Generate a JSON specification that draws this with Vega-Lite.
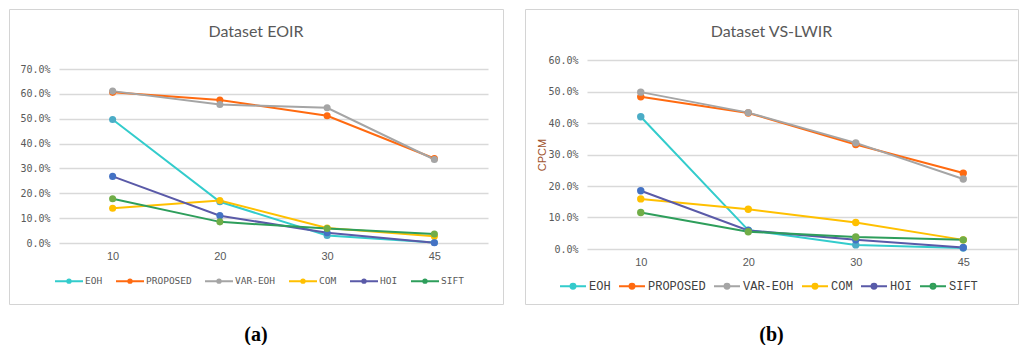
{
  "$schema": "https://vega.github.io/schema/vega-lite/v6.json",
  "padding": {"left": 8, "top": 8, "right": 0, "bottom": 0},
  "background": "white",
  "config": {
    "view": {"stroke": "#D4D4D4", "strokeWidth": 1},
    "axis": {"labelColor": "#595959", "domain": false, "ticks": false, "gridColor": "#D9D9D9", "gridWidth": 1.3}
  },
  "spacing": 20,
  "resolve": {"scale": {"stroke": "independent", "fill": "independent"}, "legend": {"stroke": "independent", "fill": "independent"}},
  "hconcat": [
    {
      "title": {"text": "(a)", "orient": "bottom", "anchor": "middle", "offset": 20, "font": "Liberation Serif", "fontSize": 20, "fontWeight": "bold", "color": "#000000"},
      "resolve": {"scale": {"stroke": "independent", "fill": "independent"}, "legend": {"stroke": "independent", "fill": "independent"}},
      "hconcat": [
        {
          "width": 494,
          "height": 295,
          "title": {"text": "Dataset EOIR", "anchor": "middle", "frame": "group", "offset": -31, "font": "Lato", "fontSize": 16, "fontWeight": "normal", "color": "#595959"},
          "data": {"values": [
            {"k": 10, "s": "EOH", "v": 0.497}, {"k": 20, "s": "EOH", "v": 0.166}, {"k": 30, "s": "EOH", "v": 0.030}, {"k": 45, "s": "EOH", "v": 0.002},
            {"k": 10, "s": "PROPOSED", "v": 0.606}, {"k": 20, "s": "PROPOSED", "v": 0.575}, {"k": 30, "s": "PROPOSED", "v": 0.512}, {"k": 45, "s": "PROPOSED", "v": 0.340},
            {"k": 10, "s": "VAR-EOH", "v": 0.611}, {"k": 20, "s": "VAR-EOH", "v": 0.557}, {"k": 30, "s": "VAR-EOH", "v": 0.544}, {"k": 45, "s": "VAR-EOH", "v": 0.336},
            {"k": 10, "s": "COM", "v": 0.140}, {"k": 20, "s": "COM", "v": 0.171}, {"k": 30, "s": "COM", "v": 0.060}, {"k": 45, "s": "COM", "v": 0.027},
            {"k": 10, "s": "HOI", "v": 0.268}, {"k": 20, "s": "HOI", "v": 0.110}, {"k": 30, "s": "HOI", "v": 0.041}, {"k": 45, "s": "HOI", "v": 0.001},
            {"k": 10, "s": "SIFT", "v": 0.178}, {"k": 20, "s": "SIFT", "v": 0.085}, {"k": 30, "s": "SIFT", "v": 0.058}, {"k": 45, "s": "SIFT", "v": 0.036}
          ]},
          "encoding": {
            "x": {"field": "k", "type": "ordinal", "scale": {"type": "point", "padding": 0.5, "range": [50, 479]},
                  "axis": {"title": null, "labelAngle": 0, "offset": -56, "labelPadding": 2, "labelFont": "Liberation Sans", "labelFontSize": 11, "grid": false}},
            "y": {"field": "v", "type": "quantitative", "scale": {"domain": [0, 0.7], "range": [234, 60], "nice": false},
                  "axis": {"title": null, "values": [0, 0.1, 0.2, 0.3, 0.4, 0.5, 0.6, 0.7], "format": ".1%", "offset": -44, "labelPadding": 3, "labelFont": "DejaVu Sans Mono", "labelFontSize": 10, "grid": true}}
          },
          "layer": [
            {"mark": {"type": "line", "strokeWidth": 2},
             "encoding": {"stroke": {"field": "s", "type": "nominal",
               "scale": {"domain": ["EOH", "PROPOSED", "VAR-EOH", "COM", "HOI", "SIFT"], "range": ["#33CCCC", "#FF6A10", "#A5A5A5", "#FFC000", "#5A5AA8", "#2E9E5B"]},
               "legend": {"title": null, "orient": "none", "legendX": 45, "legendY": 257, "direction": "horizontal", "padding": 0,
                 "symbolType": "M-1,0H1M-0.12,0A0.12,0.12,0,1,1,0.12,0A0.12,0.12,0,1,1,-0.12,0Z", "symbolSize": 784, "symbolStrokeWidth": 2,
                 "labelFont": "DejaVu Sans Mono", "labelFontSize": 9.5, "labelColor": "#595959", "labelOffset": 1, "columnPadding": 9,
                 "encode": {"symbols": {"update": {"fill": {"signal": "{'EOH':'#4BACC6','PROPOSED':'#FF6A10','VAR-EOH':'#A5A5A5','COM':'#FFC000','HOI':'#4472C4','SIFT':'#70AD47'}[datum.value]"}}}}}}}},
            {"mark": {"type": "point", "filled": true, "size": 50, "opacity": 1},
             "encoding": {"fill": {"field": "s", "type": "nominal",
               "scale": {"domain": ["EOH", "PROPOSED", "VAR-EOH", "COM", "HOI", "SIFT"], "range": ["#4BACC6", "#FF6A10", "#A5A5A5", "#FFC000", "#4472C4", "#70AD47"]},
               "legend": null}}}
          ]
        }
      ]
    },
    {
      "title": {"text": "(b)", "orient": "bottom", "anchor": "middle", "offset": 20, "font": "Liberation Serif", "fontSize": 20, "fontWeight": "bold", "color": "#000000"},
      "resolve": {"scale": {"stroke": "independent", "fill": "independent"}, "legend": {"stroke": "independent", "fill": "independent"}},
      "hconcat": [
        {
          "width": 493,
          "height": 295,
          "title": {"text": "Dataset VS-LWIR", "anchor": "middle", "frame": "group", "offset": -31, "font": "Lato", "fontSize": 16, "fontWeight": "normal", "color": "#595959"},
          "data": {"values": [
            {"k": 10, "s": "EOH", "v": 0.420}, {"k": 20, "s": "EOH", "v": 0.060}, {"k": 30, "s": "EOH", "v": 0.013}, {"k": 45, "s": "EOH", "v": 0.003},
            {"k": 10, "s": "PROPOSED", "v": 0.483}, {"k": 20, "s": "PROPOSED", "v": 0.432}, {"k": 30, "s": "PROPOSED", "v": 0.332}, {"k": 45, "s": "PROPOSED", "v": 0.241},
            {"k": 10, "s": "VAR-EOH", "v": 0.498}, {"k": 20, "s": "VAR-EOH", "v": 0.433}, {"k": 30, "s": "VAR-EOH", "v": 0.337}, {"k": 45, "s": "VAR-EOH", "v": 0.222},
            {"k": 10, "s": "COM", "v": 0.159}, {"k": 20, "s": "COM", "v": 0.126}, {"k": 30, "s": "COM", "v": 0.084}, {"k": 45, "s": "COM", "v": 0.029},
            {"k": 10, "s": "HOI", "v": 0.185}, {"k": 20, "s": "HOI", "v": 0.059}, {"k": 30, "s": "HOI", "v": 0.029}, {"k": 45, "s": "HOI", "v": 0.005},
            {"k": 10, "s": "SIFT", "v": 0.116}, {"k": 20, "s": "SIFT", "v": 0.055}, {"k": 30, "s": "SIFT", "v": 0.038}, {"k": 45, "s": "SIFT", "v": 0.029}
          ]},
          "encoding": {
            "x": {"field": "k", "type": "ordinal", "scale": {"type": "point", "padding": 0.5, "range": [62, 492]},
                  "axis": {"title": null, "labelAngle": 0, "offset": -50, "labelPadding": 2, "labelFont": "Liberation Sans", "labelFontSize": 11, "grid": false}},
            "y": {"field": "v", "type": "quantitative", "scale": {"domain": [0, 0.6], "range": [240, 51], "nice": false},
                  "axis": {"title": "CPCM", "titleColor": "#A0522D", "titleFont": "Liberation Sans", "titleFontSize": 11, "titleFontWeight": "normal", "titlePadding": 0,
                           "values": [0, 0.1, 0.2, 0.3, 0.4, 0.5, 0.6], "format": ".1%", "offset": -56, "labelPadding": 3, "labelFont": "DejaVu Sans Mono", "labelFontSize": 10, "grid": true}}
          },
          "layer": [
            {"mark": {"type": "line", "strokeWidth": 2},
             "encoding": {"stroke": {"field": "s", "type": "nominal",
               "scale": {"domain": ["EOH", "PROPOSED", "VAR-EOH", "COM", "HOI", "SIFT"], "range": ["#33CCCC", "#FF6A10", "#A5A5A5", "#FFC000", "#5A5AA8", "#2E9E5B"]},
               "legend": {"title": null, "orient": "none", "legendX": 34, "legendY": 263, "direction": "horizontal", "padding": 0,
                 "symbolType": "M-1,0H1M-0.19,0A0.19,0.19,0,1,1,0.19,0A0.19,0.19,0,1,1,-0.19,0Z", "symbolSize": 676, "symbolStrokeWidth": 2,
                 "labelFont": "Liberation Mono", "labelFontSize": 12, "labelColor": "#404040", "labelOffset": 2, "columnPadding": 4,
                 "encode": {"symbols": {"update": {"fill": {"signal": "{'EOH':'#4BACC6','PROPOSED':'#FF6A10','VAR-EOH':'#A5A5A5','COM':'#FFC000','HOI':'#4472C4','SIFT':'#70AD47'}[datum.value]"}}}}}}}},
            {"mark": {"type": "point", "filled": true, "size": 55, "opacity": 1},
             "encoding": {"fill": {"field": "s", "type": "nominal",
               "scale": {"domain": ["EOH", "PROPOSED", "VAR-EOH", "COM", "HOI", "SIFT"], "range": ["#4BACC6", "#FF6A10", "#A5A5A5", "#FFC000", "#4472C4", "#70AD47"]},
               "legend": null}}}
          ]
        }
      ]
    }
  ]
}
